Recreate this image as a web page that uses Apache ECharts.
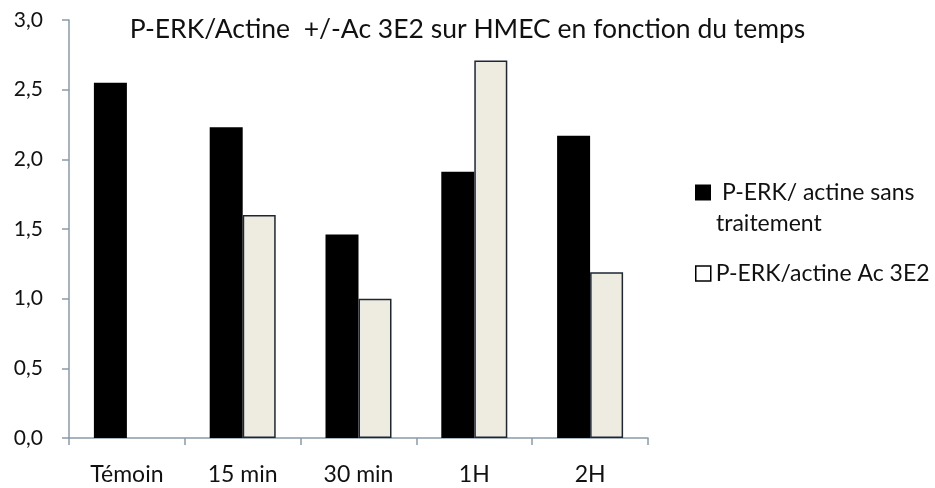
<!DOCTYPE html>
<html>
<head>
<meta charset="utf-8">
<script src="https://cdn.jsdelivr.net/npm/echarts@6/dist/echarts.min.js"></script>
<style>
  html, body { margin: 0; padding: 0; background: #fff; }
  #chart { width: 935px; height: 488px; }
</style>
</head>
<body>
<div id="chart"></div>
<script>
// Data
const categories = ['Témoin', '15 min', '30 min', '1H', '2H'];
const sansTraitement = [2.55, 2.23, 1.46, 1.91, 2.17];
const avecAc3E2 = [null, 1.60, 1.00, 2.71, 1.19];
const seriesNames = ['P-ERK/ actine sans traitement', 'P-ERK/actine Ac 3E2'];
const titleText = 'P-ERK/Actine  +/-Ac 3E2 sur HMEC en fonction du temps';

const FONT = 'Lato';
const TXT = '#111';
const chart = echarts.init(document.getElementById('chart'));

chart.setOption({
  backgroundColor: '#fff',
  animation: false,
  textStyle: { fontFamily: FONT },
  title: {
    text: titleText,
    left: 'center',
    top: 16,
    padding: [0, 0, 0, 16],
    textStyle: { fontFamily: FONT, fontSize: 26.5, fontWeight: 'normal', color: TXT }
  },
  grid: { left: 69, right: 287, top: 20, bottom: 50 },
  legend: [
    {
      orient: 'vertical',
      left: 690,
      top: 141,
      icon: 'rect',
      itemWidth: 16,
      itemHeight: 16,
      data: [{ name: seriesNames[0], itemStyle: { color: '#000', borderWidth: 0 } }],
      formatter: function () { return ' \n P-ERK/ actine sans\ntraitement'; },
      textStyle: { fontFamily: FONT, fontSize: 23, color: TXT, lineHeight: 31 }
    },
    {
      orient: 'vertical',
      left: 690,
      top: 257,
      icon: 'rect',
      itemWidth: 15,
      itemHeight: 15,
      data: [{ name: seriesNames[1], itemStyle: { color: '#fff', borderColor: '#000', borderWidth: 1.5 } }],
      formatter: function () { return 'P-ERK/actine Ac 3E2'; },
      textStyle: { fontFamily: FONT, fontSize: 23, color: TXT }
    }
  ],
  xAxis: {
    type: 'category',
    data: categories,
    axisLine: { lineStyle: { color: '#8a9aa8', width: 1.5 } },
    axisTick: { show: true, length: 7, lineStyle: { color: '#8a9aa8', width: 1.5 } },
    axisLabel: { margin: 25, fontFamily: FONT, fontSize: 23, color: TXT }
  },
  yAxis: {
    type: 'value',
    min: 0,
    max: 3,
    interval: 0.5,
    splitLine: { show: false },
    axisLine: { show: true, lineStyle: { color: '#8a9aa8', width: 1.5 } },
    axisTick: { show: true, length: 7, lineStyle: { color: '#8a9aa8', width: 1.5 } },
    axisLabel: {
      margin: 26,
      fontFamily: FONT,
      fontSize: 21,
      color: TXT,
      formatter: function (v) { return v.toFixed(1).replace('.', ','); }
    }
  },
  series: [
    {
      name: seriesNames[0],
      type: 'bar',
      data: sansTraitement,
      barWidth: 33,
      barGap: '0%',
      itemStyle: { color: '#000' }
    },
    {
      name: seriesNames[1],
      type: 'bar',
      data: avecAc3E2,
      barWidth: 33,
      itemStyle: { color: '#eeece1', borderColor: '#1c2733', borderWidth: 1.5 }
    }
  ]
});
</script>
</body>
</html>
